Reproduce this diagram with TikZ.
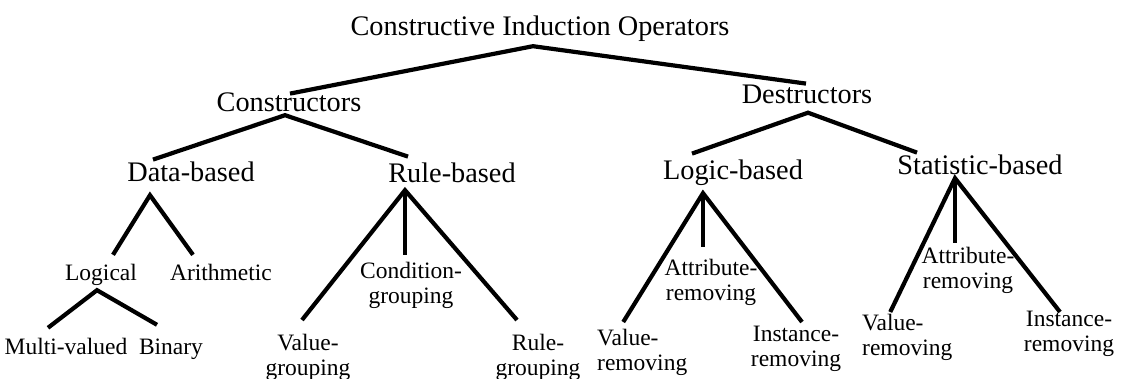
\documentclass[tikz,border=0pt]{standalone}
\usepackage{fontspec}
\setmainfont{Liberation Serif}

\begin{document}
\begin{tikzpicture}[x=1pt,y=-1pt,
  top/.style={inner sep=0pt,anchor=base,font=\fontsize{28.3}{34}\selectfont,
              text height=19.2pt,text depth=8.5pt},
  leaf/.style={inner sep=0pt,anchor=base,font=\fontsize{23.5}{25}\selectfont,
               text height=16pt,text depth=7pt},
  pair/.style={inner sep=0pt,anchor=north,align=center,font=\fontsize{23.5}{25}\selectfont},
  br/.style={line width=4.2pt}]
  \useasboundingbox (0,0) rectangle (1122,379);
  % upper levels
  \node[top] (root) at (540,36) {Constructive Induction Operators};
  \node[top] (cons) at (289,112) {Constructors};
  \node[top] (dest) at (807,104) {Destructors};
  \node[top] (data) at (191,182) {Data-based};
  \node[top] (rule) at (452,183) {Rule-based};
  \node[top] (logic) at (733,180) {Logic-based};
  \node[top] (stat) at (980,175) {Statistic-based};
  % leaves
  \node[leaf] (logical) at (101,281) {Logical};
  \node[leaf] (arith) at (221,281) {Arithmetic};
  \node[leaf] (multi) at (66,355) {Multi-valued};
  \node[leaf] (binary) at (171,355) {Binary};
  \node[pair] (cond) at (411,262) {Condition-\\grouping};
  \node[pair] (valg) at (308,334) {Value-\\grouping};
  \node[pair] (ruleg) at (538,334) {Rule-\\grouping};
  \node[pair] (attr1) at (711,259) {Attribute-\\removing};
  \node[pair,align=left,anchor=north west] (valr1) at (597,329) {Value-\\removing};
  \node[pair] (inst1) at (796,326) {Instance-\\removing};
  \node[pair] (attr2) at (968,247) {Attribute-\\removing};
  \node[pair,align=left,anchor=north west] (valr2) at (862,314) {Value-\\removing};
  \node[pair] (inst2) at (1069,311) {Instance-\\removing};
  % branches
  \draw[br] ([shift={(1,1)}]cons.north) -- ([shift={(-7,1.5)}]root.south) -- ([shift={(-1,-1)}]dest.north);
  \draw[br] ([shift={(-38,-3)}]data.north) -- ([shift={(-4,-5.5)}]cons.south) -- ([shift={(-44,-7)}]rule.north);
  \draw[br] ([shift={(-41,-7)}]logic.north) -- ([shift={(1,0)}]dest.south) -- ([shift={(-63,-3)}]stat.north);
  \draw[br] ([shift={(12,-10)}]logical.north) -- ([shift={(-41,4.5)}]data.south) -- ([shift={(-28,-10)}]arith.north);
  \draw[br] ([shift={(-18,-11)}]multi.north) -- ([shift={(-4,2)}]logical.south) -- ([shift={(-14,-14)}]binary.north);
  \draw[br] ([shift={(-6,-14)}]valg.north) -- ([shift={(-47,-1.5)}]rule.south) -- ([shift={(-21,-14)}]ruleg.north);
  \draw[br] ([shift={(-47,-1.5)}]rule.south) -- ([shift={(-6,-7)}]cond.north);
  \draw[br] ([shift={(-19,-7)}]valr1.north) -- ([shift={(-30,4.5)}]logic.south) -- ([shift={(6,-4)}]inst1.north);
  \draw[br] ([shift={(-30,4.5)}]logic.south) -- ([shift={(-8,-12)}]attr1.north);
  \draw[br] ([shift={(-17,-2)}]valr2.north) -- ([shift={(-25,-5.5)}]stat.south) -- ([shift={(-9,1)}]inst2.north);
  \draw[br] ([shift={(-25,-5.5)}]stat.south) -- ([shift={(-13,-4)}]attr2.north);
\end{tikzpicture}
\end{document}
